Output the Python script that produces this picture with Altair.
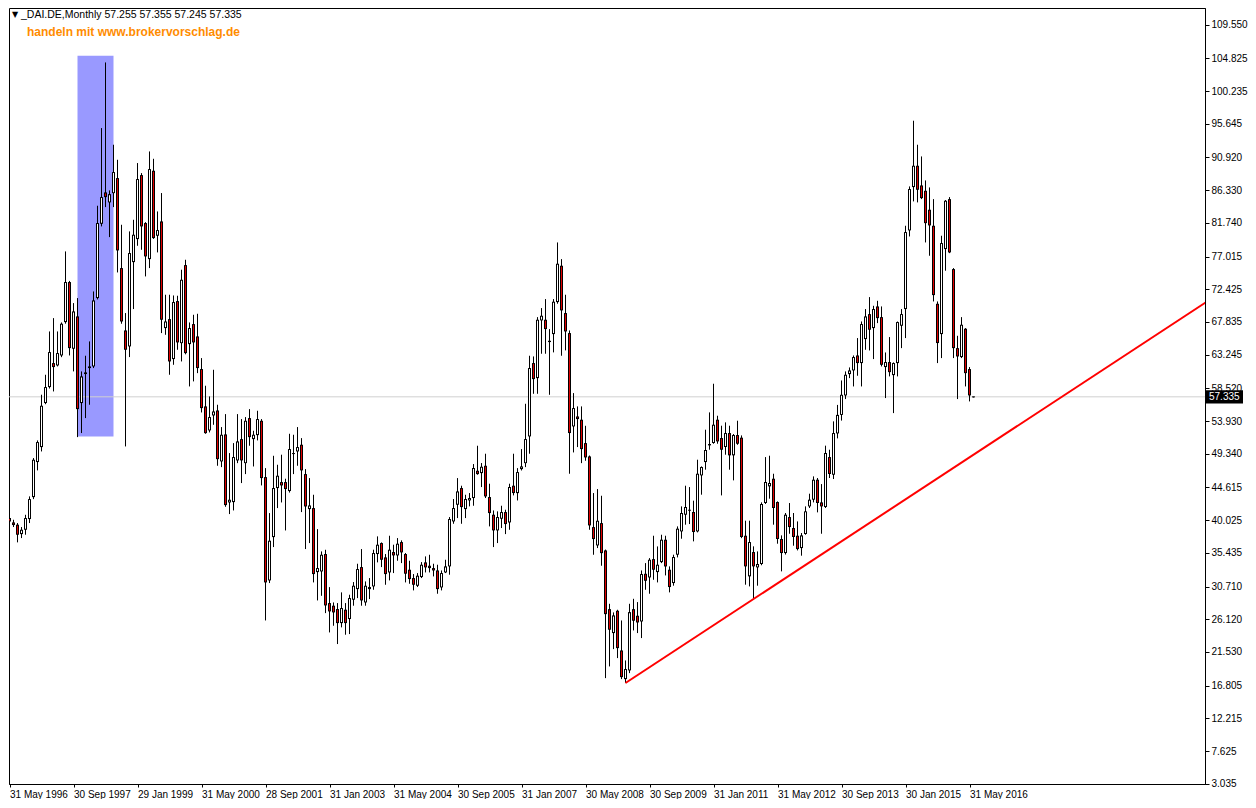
import altair as alt
import pandas as pd

# ---- monthly OHLC of _DAI.DE (bar 0 = May 1996) ----
opens = [40.32, 39.71, 39.39, 38.07, 38.68, 40.18, 43.26, 48.18, 50.28, 56.46,
         58.70, 62.07, 61.74, 63.14, 67.82, 73.44, 64.08, 68.62, 56.46, 60.53,
         61.37, 61.60, 71.19, 81.62, 86.02, 84.62, 85.92, 88.03, 75.40, 66.65,
         64.41, 76.24, 79.47, 88.45, 81.72, 76.66, 89.06, 79.94, 81.95, 66.98,
         68.24, 62.63, 70.77, 64.87, 75.82, 64.73, 67.54, 65.81, 61.23, 55.99,
         52.62, 54.72, 55.42, 48.27, 52.06, 42.51, 42.56, 48.41, 51.40, 48.03,
         54.35, 51.40, 51.96, 53.97, 46.07, 31.57, 37.65, 44.53, 45.37, 45.37,
         44.11, 49.30, 49.67, 50.61, 46.49, 41.58, 41.72, 32.74, 32.83, 35.27,
         28.39, 28.02, 27.55, 25.58, 27.46, 26.15, 28.86, 30.35, 33.44, 28.48,
         30.64, 30.73, 35.27, 36.81, 34.80, 32.69, 35.55, 35.08, 36.95, 35.27,
         33.07, 31.90, 30.82, 32.04, 34.10, 33.63, 33.30, 32.97, 30.59, 32.69,
         33.54, 39.85, 42.19, 44.53, 41.58, 42.80, 43.13, 46.96, 46.63, 47.66,
         43.27, 40.79, 38.59, 40.23, 41.16, 39.71, 44.86, 43.82, 47.19, 48.03,
         51.78, 62.07, 59.96, 68.06, 68.15, 65.20, 66.14, 70.63, 75.73, 69.09,
         66.28, 53.18, 54.58, 54.12, 50.84, 48.97, 39.05, 36.48, 39.61, 35.78,
         27.54, 24.18, 27.31, 21.74, 17.72, 18.94, 27.54, 26.61, 25.81, 32.50,
         31.99, 34.56, 32.74, 34.14, 37.28, 33.07, 31.20, 35.18, 38.45, 40.79,
         41.35, 41.17, 38.45, 46.31, 48.18, 50.71, 50.85, 54.12, 51.55, 50.29,
         52.25, 49.12, 51.97, 51.60, 37.84, 32.14, 35.55, 33.40, 33.87, 42.43,
         44.77, 45.84, 42.57, 37.38, 35.41, 40.46, 38.92, 37.84, 36.11, 38.08,
         41.96, 42.90, 45.70, 42.52, 41.87, 48.88, 46.40, 52.20, 54.80, 57.53,
         60.52, 61.04, 63.14, 62.07, 65.44, 68.94, 66.98, 70.02, 68.52, 61.51,
         62.21, 60.38, 62.07, 67.31, 69.65, 80.69, 86.77, 89.76, 87.00, 86.25,
         83.59, 81.34, 70.39, 66.14, 78.07, 85.08, 75.26, 64.17, 62.91, 66.89,
         61.23, 57.255]
highs = [40.64, 40.08, 39.62, 39.06, 40.78, 43.36, 48.74, 51.22, 57.63, 60.43,
         66.51, 68.38, 66.51, 67.77, 77.74, 73.60, 70.49, 71.19, 60.90, 63.10,
         65.11, 72.12, 84.15, 95.05, 104.26, 86.30, 92.71, 90.60, 81.48, 69.09,
         80.55, 82.18, 90.14, 88.73, 81.85, 91.77, 90.74, 83.35, 85.93, 71.66,
         71.66, 71.56, 71.52, 75.17, 76.57, 67.77, 68.85, 68.99, 62.77, 58.89,
         57.39, 61.13, 56.22, 53.09, 54.91, 49.44, 50.84, 54.91, 54.21, 54.49,
         55.61, 52.57, 55.38, 54.21, 47.33, 41.02, 49.06, 47.80, 49.21, 45.84,
         52.15, 52.01, 53.09, 51.54, 47.19, 45.93, 43.59, 38.77, 35.64, 35.87,
         30.63, 28.48, 28.39, 29.89, 28.39, 29.56, 31.34, 33.91, 35.97, 31.43,
         31.90, 35.88, 37.75, 36.90, 35.27, 37.84, 36.58, 37.51, 37.19, 35.41,
         34.33, 32.46, 32.60, 34.14, 34.94, 35.17, 33.91, 33.77, 32.97, 34.47,
         40.46, 42.99, 45.93, 44.86, 43.59, 43.83, 47.90, 50.47, 48.04, 49.35,
         45.14, 41.39, 41.26, 42.05, 41.49, 45.14, 49.35, 47.33, 50.00, 56.36,
         63.10, 63.00, 68.52, 69.79, 71.05, 66.84, 71.05, 79.00, 76.66, 71.66,
         66.65, 57.86, 55.99, 55.99, 53.27, 49.10, 43.83, 44.39, 43.45, 35.90,
         28.29, 27.08, 27.45, 25.95, 20.34, 28.29, 28.99, 28.53, 32.97, 34.00,
         34.70, 37.84, 36.34, 37.98, 37.84, 33.54, 35.18, 39.15, 41.96, 44.86,
         44.67, 42.76, 48.51, 47.57, 52.72, 55.15, 59.17, 54.68, 53.28, 53.75,
         53.28, 52.11, 53.98, 51.92, 39.95, 39.95, 36.35, 35.64, 42.52, 48.88,
         49.07, 46.54, 42.66, 37.89, 41.03, 42.43, 41.03, 39.85, 38.22, 41.96,
         43.74, 46.17, 45.94, 45.09, 50.48, 49.91, 53.89, 56.20, 59.63, 60.90,
         61.46, 63.14, 65.58, 67.91, 69.65, 71.33, 70.11, 70.81, 70.02, 63.56,
         65.72, 62.16, 67.90, 69.65, 81.34, 86.86, 96.08, 92.71, 91.07, 87.70,
         86.72, 85.08, 70.72, 79.94, 84.95, 85.36, 75.40, 65.90, 68.52, 66.98,
         61.51, 57.355]
lows = [39.24, 39.06, 36.91, 37.51, 37.98, 39.62, 42.98, 47.01, 49.67, 56.30,
        58.50, 58.09, 61.60, 62.90, 67.60, 63.14, 60.90, 51.68, 52.25, 54.35,
        56.22, 61.37, 71.00, 81.25, 83.96, 79.75, 83.96, 74.79, 67.59, 50.37,
        62.91, 69.65, 78.53, 77.97, 74.23, 75.40, 79.50, 77.60, 66.28, 66.04,
        60.43, 61.83, 63.94, 62.30, 63.30, 58.79, 59.50, 60.66, 55.14, 52.15,
        52.34, 53.41, 47.66, 47.47, 41.90, 40.88, 41.39, 48.03, 45.23, 46.49,
        50.47, 47.56, 51.22, 44.90, 25.95, 31.20, 36.25, 41.72, 42.51, 38.58,
        43.90, 46.49, 47.66, 41.16, 35.97, 36.81, 31.29, 28.76, 29.41, 26.98,
        24.27, 25.21, 22.64, 24.98, 23.95, 24.04, 28.02, 29.09, 28.02, 28.02,
        28.95, 30.26, 34.10, 33.44, 30.96, 31.57, 32.60, 34.33, 34.00, 31.29,
        31.10, 30.17, 30.64, 31.90, 32.69, 32.69, 32.13, 29.70, 30.17, 32.60,
        32.37, 39.52, 40.32, 39.52, 40.32, 41.96, 42.05, 46.40, 44.67, 43.13,
        39.15, 36.25, 36.81, 38.92, 38.07, 38.68, 43.50, 42.79, 47.00, 47.47,
        49.35, 57.76, 57.76, 63.38, 63.38, 57.62, 63.57, 70.40, 63.10, 63.85,
        46.54, 49.53, 50.28, 48.03, 48.36, 38.68, 35.17, 36.11, 33.63, 17.86,
        19.50, 21.93, 20.67, 17.72, 17.16, 18.56, 24.55, 24.18, 23.48, 30.26,
        29.70, 31.66, 31.29, 34.00, 32.27, 29.89, 30.83, 34.80, 37.42, 39.39,
        39.48, 37.05, 38.31, 43.60, 47.11, 49.91, 50.75, 50.75, 43.50, 49.21,
        47.11, 45.61, 50.60, 37.50, 30.97, 30.73, 28.86, 30.83, 33.70, 42.30,
        43.04, 39.39, 36.72, 32.84, 35.20, 38.12, 36.44, 35.78, 35.04, 37.98,
        41.73, 42.52, 41.12, 38.12, 41.73, 45.94, 45.80, 51.50, 54.00, 57.02,
        59.96, 58.79, 60.29, 58.79, 63.94, 63.84, 62.63, 67.68, 61.60, 57.16,
        60.20, 55.05, 60.20, 64.17, 65.58, 79.84, 84.76, 84.62, 85.08, 79.00,
        77.13, 70.72, 62.07, 62.77, 75.03, 77.50, 62.77, 57.02, 62.77, 58.79,
        56.69, 57.245]
closes = [39.85, 39.34, 37.98, 38.68, 40.32, 42.98, 48.50, 50.98, 56.08, 58.70,
          63.61, 61.51, 63.47, 67.59, 73.44, 64.17, 69.32, 55.61, 60.20, 60.76,
          61.60, 70.86, 81.72, 85.36, 85.36, 85.78, 88.87, 77.88, 67.91, 63.94,
          77.51, 80.08, 87.89, 81.25, 77.04, 89.29, 79.61, 80.73, 68.15, 67.91,
          62.30, 70.63, 64.97, 73.76, 63.47, 66.98, 64.97, 61.37, 55.75, 52.24,
          54.49, 55.28, 48.59, 52.01, 42.14, 42.89, 48.88, 51.08, 48.41, 53.97,
          51.68, 52.01, 54.21, 45.93, 31.29, 37.14, 44.53, 46.26, 44.90, 44.39,
          50.00, 49.44, 50.28, 47.01, 41.95, 42.09, 32.46, 33.30, 35.17, 28.06,
          27.22, 27.08, 25.58, 27.69, 25.58, 29.09, 30.82, 33.16, 28.76, 30.82,
          30.35, 35.41, 36.58, 34.47, 32.46, 35.88, 35.08, 36.72, 35.50, 32.51,
          31.76, 30.96, 32.23, 33.77, 33.40, 33.30, 32.97, 30.35, 32.60, 33.54,
          40.18, 41.72, 44.06, 41.86, 42.99, 43.13, 47.34, 46.49, 47.52, 43.36,
          41.02, 38.59, 40.46, 41.16, 39.48, 44.67, 43.83, 46.77, 47.57, 51.40,
          61.37, 59.82, 68.15, 68.71, 66.84, 65.02, 70.68, 76.01, 69.46, 66.51,
          52.25, 55.75, 54.21, 50.00, 48.83, 39.29, 37.37, 39.94, 35.40, 26.84,
          24.65, 26.66, 22.07, 18.00, 19.13, 27.12, 25.91, 25.67, 32.46, 31.52,
          34.47, 33.07, 33.77, 37.28, 33.53, 30.64, 34.85, 38.83, 41.03, 41.87,
          41.49, 38.36, 46.54, 47.48, 49.87, 50.52, 53.42, 51.08, 49.91, 52.25,
          49.12, 51.97, 50.75, 37.66, 33.54, 36.95, 33.54, 33.87, 42.29, 45.38,
          45.24, 41.73, 37.38, 35.41, 40.79, 39.06, 37.66, 35.97, 37.89, 41.26,
          42.90, 45.70, 42.43, 41.96, 49.45, 46.50, 52.25, 54.80, 57.62, 60.43,
          61.04, 62.91, 62.07, 67.54, 68.62, 66.75, 69.65, 68.38, 61.83, 62.21,
          60.80, 62.07, 67.82, 68.94, 80.45, 86.49, 89.76, 86.39, 85.22, 81.71,
          81.39, 71.61, 64.88, 78.91, 84.85, 77.60, 64.17, 63.00, 67.45, 60.66,
          57.53, 57.335]

x_tick_labels = ["31 May 1996", "30 Sep 1997", "29 Jan 1999", "31 May 2000",
                 "28 Sep 2001", "31 Jan 2003", "31 May 2004", "30 Sep 2005",
                 "31 Jan 2007", "30 May 2008", "30 Sep 2009", "31 Jan 2011",
                 "31 May 2012", "30 Sep 2013", "30 Jan 2015", "31 May 2016"]
x_tick_step = 16
y_ticks = [109.550, 104.825, 100.235, 95.645, 90.920, 86.330, 81.740, 77.015,
           72.425, 67.835, 63.245, 58.520, 53.930, 49.340, 44.615, 40.025,
           35.435, 30.710, 26.120, 21.530, 16.805, 12.215, 7.625, 3.035]

rect_bars = [17, 26]
rect_prices = [51.78, 105.2]
trend_bars = [154, 303.25]
trend_prices = [17.17, 72.13]
last_price = 57.335
header = "_DAI.DE,Monthly  57.255 57.355 57.245 57.335"
promo = "handeln mit www.brokervorschlag.de"

# ---- layout ----
W, H = 1196, 776
FONT = "Liberation Sans"
Y_MIN, Y_MAX = 3.0, 111.9
PX = (Y_MAX - Y_MIN) / H          # one pixel in price units

df = pd.DataFrame({"i": list(range(len(opens))), "open": opens, "high": highs,
                   "low": lows, "close": closes})

xs = alt.Scale(domain=[-0.125, 298.875], nice=False, zero=False)
ys = alt.Scale(domain=[Y_MIN, Y_MAX], nice=False, zero=False)

label_arr = "[" + ",".join("'%s'" % s for s in x_tick_labels) + "]"
x_axis = alt.Axis(values=[k * x_tick_step for k in range(len(x_tick_labels))],
                  labelExpr=label_arr + "[round(datum.value/%d)]" % x_tick_step,
                  title=None, grid=False, tickSize=3, labelAlign="left",
                  labelPadding=2, labelFontSize=10, labelFont=FONT,
                  labelColor="black", labelFlush=False, labelOverlap=False,
                  labelBound=False, domainColor="black", tickColor="black")
y_axis = alt.Axis(values=y_ticks, format=".3f", orient="right", title=None,
                  grid=False, tickSize=4, labelPadding=2, labelFontSize=10,
                  labelFont=FONT, labelColor="black", labelOverlap=False,
                  labelFlush=False, labelBound=False, domainColor="black",
                  tickColor="black")

# highlighted rectangle
rect_df = pd.DataFrame({"x1": [rect_bars[0]], "x2": [rect_bars[1]],
                        "y1": [rect_prices[0]], "y2": [rect_prices[1]]})
rect = alt.Chart(rect_df).mark_rect(color="#9999FF", opacity=1, clip=True).encode(
    x=alt.X("x1:Q", scale=xs, axis=x_axis), x2="x2:Q",
    y=alt.Y("y1:Q", scale=ys, axis=y_axis), y2="y2:Q")

# bid line
bid_df = pd.DataFrame({"p": [last_price]})
bid = alt.Chart(bid_df).mark_rule(color="#D0D0D0", strokeWidth=1).encode(
    y=alt.Y("p:Q", scale=ys, axis=y_axis))

# candles: wick, black outer body, coloured inner body
wicks = alt.Chart(df).mark_rule(color="black", strokeWidth=1, clip=True).encode(
    x=alt.X("i:Q", scale=xs, axis=x_axis),
    y=alt.Y("low:Q", scale=ys, axis=y_axis), y2="high:Q")

body_base = alt.Chart(df).transform_calculate(
    top="max(datum.open, datum.close)", bot="min(datum.open, datum.close)")

outer = body_base.transform_calculate(
    ox1="datum.i - 0.375", ox2="datum.i + 0.375",
    otop="max(datum.top, datum.bot + %f)" % PX
).mark_rect(color="black", clip=True).encode(
    x=alt.X("ox1:Q", scale=xs, axis=x_axis), x2="ox2:Q",
    y=alt.Y("bot:Q", scale=ys, axis=y_axis), y2="otop:Q")

inner = body_base.transform_filter(
    "datum.top - datum.bot > %f" % (2.2 * PX)
).transform_calculate(
    ix1="datum.i - 0.125", ix2="datum.i + 0.125",
    ibot="datum.bot + %f" % PX, itop="datum.top - %f" % PX
).mark_rect(clip=True).encode(
    x=alt.X("ix1:Q", scale=xs, axis=x_axis), x2="ix2:Q",
    y=alt.Y("ibot:Q", scale=ys, axis=y_axis), y2="itop:Q",
    fill=alt.condition("datum.close < datum.open", alt.value("#E00000"),
                       alt.value("white")))

# trend line
trend_df = pd.DataFrame({"x1": [trend_bars[0]], "x2": [trend_bars[1]],
                         "y1": [trend_prices[0]], "y2": [trend_prices[1]]})
trend = alt.Chart(trend_df).mark_rule(color="#FF0000", strokeWidth=2, clip=True).encode(
    x=alt.X("x1:Q", scale=xs, axis=x_axis), x2="x2:Q",
    y=alt.Y("y1:Q", scale=ys, axis=y_axis), y2="y2:Q")

# price tag on the axis
tag_box = alt.Chart(bid_df).transform_calculate(
    lo="datum.p - 0.92", hi="datum.p + 0.92"
).mark_rect(color="black").encode(
    x=alt.value(W + 1), x2=alt.value(W + 38),
    y=alt.Y("lo:Q", scale=ys, axis=y_axis), y2="hi:Q")
tag_txt = alt.Chart(bid_df).mark_text(
    color="white", fontSize=10, font=FONT, align="left", baseline="middle"
).encode(x=alt.value(W + 4), y=alt.Y("p:Q", scale=ys, axis=y_axis),
         text=alt.Text("p:Q", format=".3f"))

# header texts
tri = alt.Chart(pd.DataFrame({"t": ["\u25bc"]})).mark_text(
    fontSize=8, font="DejaVu Sans", color="black", align="left", baseline="middle"
).encode(x=alt.value(3), y=alt.value(7), text="t:N")
head = alt.Chart(pd.DataFrame({"t": [header]})).mark_text(
    fontSize=10.5, font=FONT, color="black", align="left", baseline="middle"
).encode(x=alt.value(12), y=alt.value(7), text="t:N")
promo_txt = alt.Chart(pd.DataFrame({"t": [promo]})).mark_text(
    fontSize=12, font=FONT, fontWeight="bold", color="#FF8C00", align="left",
    baseline="middle"
).encode(x=alt.value(18), y=alt.value(24), text="t:N")

chart = alt.layer(rect, bid, wicks, outer, inner, trend, tag_box, tag_txt, tri,
                  head, promo_txt).properties(
    width=W, height=H, padding=0, background="white"
).configure_view(stroke="black", strokeWidth=1)

chart.save("out.html", embed_options={"renderer": "svg", "actions": False})
